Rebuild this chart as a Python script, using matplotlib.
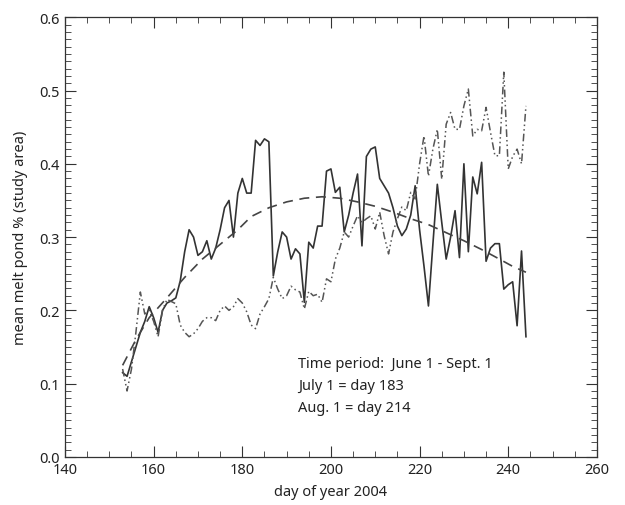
import matplotlib

matplotlib.use("Agg")
import matplotlib.pyplot as plt
import numpy as np
from matplotlib.ticker import MultipleLocator, FormatStrFormatter

plt.rcParams["font.family"] = ["Noto Sans", "DejaVu Sans"]

# day of year 2004, June 1 (153) .. Sept 1
days = list(range(153, 245))

# mean melt pond fraction, study area (solid)
pond_solid = [
    0.115, 0.110, 0.130, 0.150, 0.170, 0.185, 0.205, 0.190, 0.170, 0.200,
    0.210, 0.213, 0.217, 0.240, 0.280, 0.310, 0.300, 0.275, 0.280, 0.295,
    0.270, 0.285, 0.310, 0.340, 0.350, 0.300, 0.360, 0.380, 0.360, 0.360,
    0.432, 0.425, 0.434, 0.430, 0.247, 0.280, 0.307, 0.300, 0.270, 0.284,
    0.277, 0.211, 0.293, 0.285, 0.315, 0.315, 0.390, 0.393, 0.361, 0.368,
    0.307, 0.330, 0.360, 0.386, 0.288, 0.410, 0.420, 0.423, 0.380, 0.370,
    0.360, 0.340, 0.315, 0.302, 0.311, 0.330, 0.370, 0.310, 0.260, 0.206,
    0.290, 0.372, 0.320, 0.270, 0.300, 0.336, 0.272, 0.400, 0.280, 0.382,
    0.359, 0.402, 0.267, 0.285, 0.291, 0.291, 0.229, 0.235, 0.239, 0.179,
    0.281, 0.164,
]

# second series (dash-dot)
pond_dashdot = [
    0.120, 0.090, 0.120, 0.170, 0.225, 0.195, 0.200, 0.185, 0.164, 0.200,
    0.215, 0.212, 0.209, 0.180, 0.170, 0.164, 0.168, 0.175, 0.185, 0.190,
    0.190, 0.186, 0.200, 0.206, 0.200, 0.205, 0.216, 0.210, 0.198, 0.180,
    0.175, 0.195, 0.205, 0.216, 0.245, 0.229, 0.216, 0.220, 0.233, 0.228,
    0.225, 0.202, 0.226, 0.220, 0.222, 0.211, 0.243, 0.239, 0.270, 0.285,
    0.307, 0.300, 0.315, 0.329, 0.320, 0.325, 0.329, 0.311, 0.334, 0.302,
    0.277, 0.307, 0.325, 0.341, 0.336, 0.361, 0.352, 0.400, 0.438, 0.383,
    0.420, 0.447, 0.379, 0.454, 0.470, 0.447, 0.447, 0.479, 0.502, 0.438,
    0.447, 0.445, 0.477, 0.443, 0.411, 0.411, 0.525, 0.393, 0.410, 0.420,
    0.400, 0.479,
]

# smooth fit (dashed)
fit_days = [153, 156, 159, 163, 167, 171, 175, 179, 182, 186, 190, 194, 198,
            202, 206, 210, 214, 218, 222, 226, 230, 234, 238, 241, 244]
fit_vals = [0.125, 0.160, 0.190, 0.217, 0.245, 0.270, 0.290, 0.310, 0.328,
            0.340, 0.348, 0.353, 0.355, 0.353, 0.348, 0.342, 0.334, 0.325,
            0.317, 0.306, 0.295, 0.283, 0.270, 0.260, 0.252]

notes = ["Time period:  June 1 - Sept. 1", "July 1 = day 183", "Aug. 1 = day 214"]

fig = plt.figure(figsize=(6.25, 5.06), dpi=100)
ax = fig.add_axes([0.104, 0.095, 0.851, 0.869])

ink = "#333333"
ax.plot(days, pond_solid, color=ink, linewidth=1.2)
ax.plot(days, pond_dashdot, color="#555555", linewidth=1.1,
        linestyle=(0, (5, 2, 1, 2, 1, 2)))
ax.plot(fit_days, fit_vals, color="#444444", linewidth=1.2,
        linestyle=(0, (6, 4)))

ax.set_xlim(140, 260)
ax.set_ylim(0.0, 0.6)
ax.xaxis.set_major_locator(MultipleLocator(20))
ax.xaxis.set_minor_locator(MultipleLocator(5))
ax.yaxis.set_major_locator(MultipleLocator(0.1))
ax.yaxis.set_minor_locator(MultipleLocator(0.01))
ax.yaxis.set_major_formatter(FormatStrFormatter("%.1f"))
ax.tick_params(which="both", direction="in", top=True, right=True,
               color="#333333", labelsize=10.5, labelcolor="#222222")
ax.tick_params(which="major", length=8, width=0.8, pad=4)
ax.tick_params(which="minor", length=4, width=0.6)
for spine in ax.spines.values():
    spine.set_color("#333333")
    spine.set_linewidth(0.9)

ax.set_xlabel("day of year 2004", fontsize=10.5, color="#222222", labelpad=5)
ax.set_ylabel("mean melt pond % (study area)", fontsize=10.5, color="#222222",
              labelpad=8)

for i, line in enumerate(notes):
    ax.text(192.5, 0.127 - i * 0.030, line, fontsize=10.5, color="#222222",
            va="center", ha="left")

fig.savefig("out.png", dpi=100)
